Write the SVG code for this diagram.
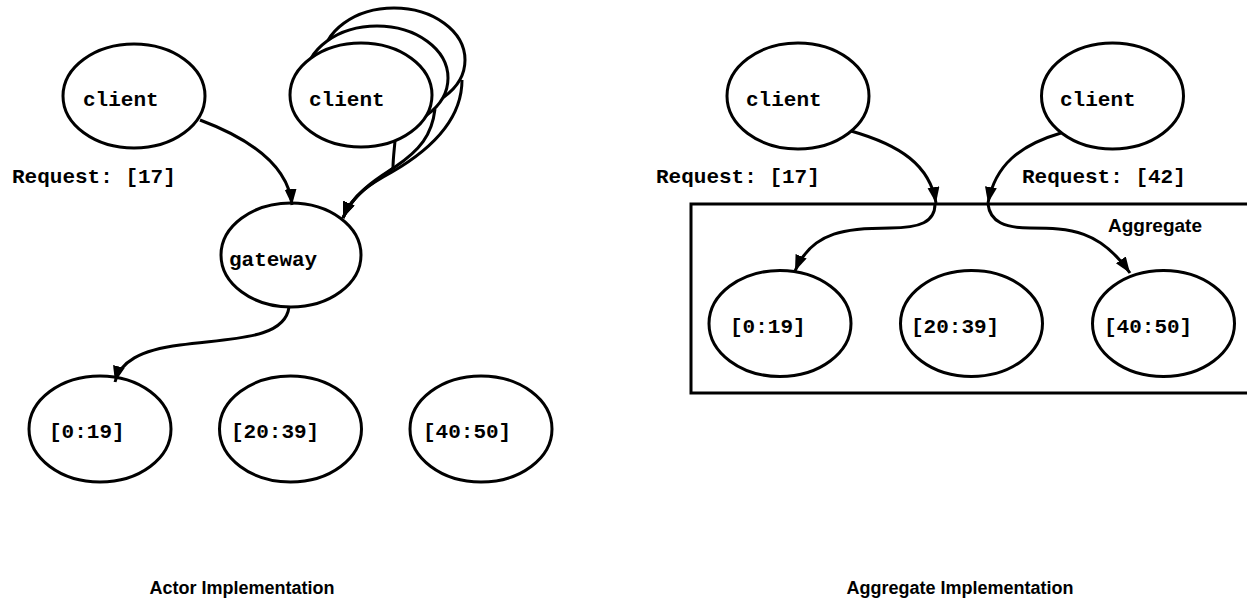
<svg xmlns="http://www.w3.org/2000/svg" width="1247" height="606" viewBox="0 0 1247 606">
<style>
.n{fill:#fff;stroke:#000;stroke-width:3}
.c{fill:none;stroke:#000;stroke-width:3}
.m{font-family:"Liberation Mono","Courier New",monospace;font-weight:bold;font-size:21px;fill:#000}
.t{font-family:"Liberation Sans",Arial,sans-serif;font-weight:bold;font-size:18px;fill:#000}
</style>
<defs>
<marker id="ah" markerUnits="userSpaceOnUse" markerWidth="18" markerHeight="14" refX="16" refY="6" orient="auto">
<path d="M0,0 L16,6 L0,12 Z" fill="#000"/>
</marker>
</defs>
<rect width="1247" height="606" fill="#fff"/>

<g id="aggregate-box">
<rect x="691" y="204" width="570" height="189" class="c"/>
<text x="1108" y="232" class="t" style="font-size:19px">Aggregate</text>
</g>

<g id="client-a"><ellipse cx="134" cy="96" rx="71" ry="52" class="n"/><text x="83" y="106" class="m">client</text></g>
<g id="client-stack">
<ellipse cx="394" cy="60" rx="71" ry="52" class="n"/>
<ellipse cx="377" cy="78" rx="71" ry="52" class="n"/>
<ellipse cx="361" cy="95" rx="71" ry="52" class="n"/>
<text x="309" y="106" class="m">client</text>
</g>
<g id="gateway"><ellipse cx="291" cy="255" rx="70" ry="52" class="n"/><text x="229" y="266" class="m">gateway</text></g>
<g id="shard-a1"><ellipse cx="100" cy="429" rx="71" ry="53" class="n"/><text x="49" y="438" class="m">[0:19]</text></g>
<g id="shard-a2"><ellipse cx="290.5" cy="429" rx="71" ry="53" class="n"/><text x="231" y="438" class="m">[20:39]</text></g>
<g id="shard-a3"><ellipse cx="481" cy="429" rx="71" ry="53" class="n"/><text x="423" y="438" class="m">[40:50]</text></g>

<g id="client-b1"><ellipse cx="798" cy="96" rx="71" ry="53" class="n"/><text x="746" y="106" class="m">client</text></g>
<g id="client-b2"><ellipse cx="1112.5" cy="96" rx="71" ry="53" class="n"/><text x="1060" y="106" class="m">client</text></g>
<g id="shard-b1"><ellipse cx="780" cy="323.5" rx="71" ry="53" class="n"/><text x="730" y="333" class="m">[0:19]</text></g>
<g id="shard-b2"><ellipse cx="971.5" cy="323.5" rx="71" ry="53" class="n"/><text x="911" y="333" class="m">[20:39]</text></g>
<g id="shard-b3"><ellipse cx="1163.5" cy="323.5" rx="71" ry="53" class="n"/><text x="1104" y="333" class="m">[40:50]</text></g>

<g id="connectors">
<path d="M200,120 C240,135 288,160 292,205" class="c" marker-end="url(#ah)"/>
<path d="M462,80 C462,120 430,150 392,172 C372,183 352,194 343,218" class="c" marker-end="url(#ah)"/>
<path d="M435,109 C432,135 420,150 395,167 C378,178 354,192 343,218" class="c" marker-end="url(#ah)"/>
<path d="M395,141 C394,152 393,160 393,168 C383,178 354,190 343,218" class="c" marker-end="url(#ah)"/>
<path d="M289,307 C285,340 230,338 180,345 C140,350 120,362 115,382" class="c" marker-end="url(#ah)"/>
<path d="M851,131 C900,145 930,165 936,203" class="c" marker-end="url(#ah)"/>
<path d="M935,204 C935,222 920,228 890,228 C850,228 812,230 795,271" class="c" marker-end="url(#ah)"/>
<path d="M1061,133 C1020,145 995,165 988,203" class="c" marker-end="url(#ah)"/>
<path d="M988,204 C990,222 1005,228 1030,228 C1070,228 1100,230 1130,273" class="c" marker-end="url(#ah)"/>
</g>

<g id="labels">
<text x="12" y="183" class="m">Request: [17]</text>
<text x="656" y="183" class="m">Request: [17]</text>
<text x="1022" y="183" class="m">Request: [42]</text>
<text x="242" y="594" class="t" text-anchor="middle">Actor Implementation</text>
<text x="960" y="594" class="t" text-anchor="middle">Aggregate Implementation</text>
</g>
</svg>
